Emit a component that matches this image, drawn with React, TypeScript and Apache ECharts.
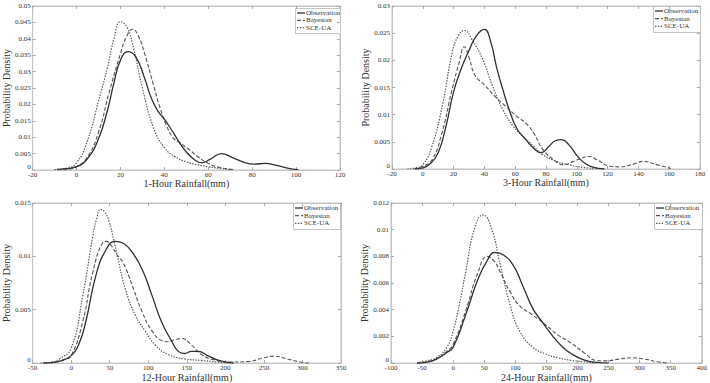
import React, { useEffect, useRef } from "react";
import * as echarts from "echarts";

// ---- 1-hour rainfall densities ----
const h1ObsX = [-9, -5, 0, 5, 10, 14, 17, 20, 23.5, 27, 31, 34, 37, 40, 43, 46, 50, 54, 57, 61, 66, 71, 76, 81, 86, 91, 96, 101];
const h1ObsY = [0.0002, 0.0004, 0.001, 0.0035, 0.0095, 0.018, 0.0265, 0.0335, 0.0361, 0.0345, 0.028, 0.022, 0.018, 0.0155, 0.0125, 0.0093, 0.0055, 0.003, 0.0022, 0.0033, 0.005, 0.0038, 0.0024, 0.0018, 0.002, 0.0014, 0.0006, 0.0001];
const h1BayX = [-6, -3, 0, 5, 10, 15, 20, 23, 25.5, 28, 31, 35, 38, 41, 44, 47, 51, 55, 60, 65, 72];
const h1BayY = [0, 0.0003, 0.001, 0.004, 0.0115, 0.024, 0.0355, 0.041, 0.0429, 0.041, 0.0355, 0.026, 0.019, 0.0135, 0.0098, 0.0083, 0.0064, 0.0042, 0.002, 0.0008, 0.0001];
const h1SceX = [-10, -5, 0, 5, 10, 14, 17, 20, 23, 26, 30, 35, 40, 45, 50, 55, 60, 65, 71];
const h1SceY = [0.0001, 0.0005, 0.0022, 0.009, 0.021, 0.031, 0.04, 0.0452, 0.0435, 0.037, 0.025, 0.013, 0.0068, 0.004, 0.0025, 0.0016, 0.001, 0.0005, 0.0001];

// ---- 3-hour rainfall densities ----
const h3ObsX = [-5, 0, 5, 10, 15, 20, 25, 30, 35, 40, 44, 48, 52, 56, 61, 67, 72, 77, 82, 86, 90, 95, 100, 105, 110, 118];
const h3ObsY = [0, 0.0002, 0.001, 0.003, 0.0078, 0.0142, 0.0185, 0.0218, 0.0246, 0.0257, 0.0235, 0.0186, 0.0146, 0.011, 0.0075, 0.0054, 0.0038, 0.003, 0.0042, 0.0052, 0.0054, 0.0044, 0.0025, 0.0011, 0.0004, 0];
const h3BayX = [-6, 0, 6, 12, 19, 23.5, 27, 30, 34, 40, 47, 54, 61, 67, 72, 78, 85, 91, 98, 103, 108, 113, 122, 128, 137, 143, 152, 161];
const h3BayY = [0, 0.0005, 0.0017, 0.0062, 0.0146, 0.0195, 0.0225, 0.0205, 0.0172, 0.0155, 0.0133, 0.0115, 0.0097, 0.0084, 0.0066, 0.0036, 0.0017, 0.0008, 0.0014, 0.002, 0.0023, 0.0017, 0.0005, 0.0004, 0.0009, 0.0014, 0.0008, 0.0001];
const h3SceX = [-10, -5, 0, 6, 13, 19, 23, 27, 32, 39, 45, 52, 59, 65, 72, 78, 87, 96, 104, 113];
const h3SceY = [0, 0.0002, 0.0008, 0.0042, 0.0121, 0.0213, 0.0245, 0.0255, 0.0238, 0.0201, 0.0155, 0.0109, 0.0078, 0.006, 0.0042, 0.0026, 0.0014, 0.0007, 0.0003, 0.0001];

// ---- 12-hour rainfall densities ----
const h12ObsX = [-36, -20, -10, 0, 10, 19, 32, 45, 57, 68, 79, 92, 105, 117, 130, 139, 147, 156, 165, 177, 194, 211];
const h12ObsY = [0, 0.0001, 0.0003, 0.0007, 0.0018, 0.0039, 0.0082, 0.0106, 0.0114, 0.0112, 0.0104, 0.0088, 0.0063, 0.0039, 0.0021, 0.0011, 0.0009, 0.0011, 0.0011, 0.0007, 0.0002, 0];
const h12BayX = [-36, -20, -10, 0, 15, 28, 41, 45, 52, 58, 68, 79, 92, 105, 118, 126, 135, 143, 156, 169, 186, 207, 229, 250, 263, 280, 297, 310];
const h12BayY = [0, 0.0001, 0.0003, 0.0007, 0.0039, 0.0085, 0.0113, 0.0114, 0.011, 0.0103, 0.0093, 0.0073, 0.0048, 0.003, 0.0021, 0.002, 0.0022, 0.0023, 0.0017, 0.0008, 0.0003, 0.0001, 0.00015, 0.0005, 0.00065, 0.0004, 0.0001, 0];
const h12SceX = [-40, -25, -15, 0, 15, 28, 33, 38, 43, 49, 55, 60, 70, 83, 96, 109, 126, 147, 169, 190, 210];
const h12SceY = [0, 0.0001, 0.0004, 0.0014, 0.0063, 0.0119, 0.0135, 0.0144, 0.0142, 0.0133, 0.0116, 0.01, 0.007, 0.0045, 0.003, 0.0017, 0.0008, 0.0004, 0.00025, 0.0001, 0];

// ---- 24-hour rainfall densities ----
const h24ObsX = [-58, -40, -27, -10, 0, 20, 40, 55, 67, 81, 97, 112, 128, 143, 159, 174, 190, 210, 231, 250];
const h24ObsY = [0, 0.0001, 0.0003, 0.0008, 0.0012, 0.0036, 0.0063, 0.0077, 0.0083, 0.0081, 0.0073, 0.0058, 0.0041, 0.0031, 0.0021, 0.0013, 0.0007, 0.00025, 0.00005, 0];
const h24BayX = [-58, -40, -27, -10, 0, 20, 40, 55, 65, 76, 92, 107, 128, 148, 169, 190, 210, 231, 246, 267, 288, 308, 329, 347];
const h24BayY = [0, 0.0001, 0.0003, 0.0009, 0.0014, 0.0039, 0.0068, 0.008, 0.0077, 0.0068, 0.0053, 0.0043, 0.0036, 0.0029, 0.0021, 0.0015, 0.0008, 0.0002, 0.00017, 0.0003, 0.0004, 0.0003, 0.0001, 0];
const h24SceX = [-58, -40, -27, -10, 0, 10, 20, 35, 48, 61, 76, 92, 107, 128, 148, 169, 190, 210, 230];
const h24SceY = [0, 0.0002, 0.0004, 0.0012, 0.0024, 0.0044, 0.0068, 0.0102, 0.0111, 0.0102, 0.0073, 0.0043, 0.0024, 0.0012, 0.0007, 0.0004, 0.0002, 0.0001, 0];

const seriesNames = ["Observation", "Bayesian", "SCE-UA"];
const xTitles = ["1-Hour Rainfall(mm)", "3-Hour Rainfall(mm)", "12-Hour Rainfall(mm)", "24-Hour Rainfall(mm)"];
const yTitle = "Probability Density";

const xMins = [-20, -20, -50, -100];
const xMaxs = [120, 180, 350, 400];
const xSteps = [20, 20, 50, 50];
const yMaxs = [0.05, 0.03, 0.015, 0.012];
const ySteps = [0.005, 0.005, 0.005, 0.002];

const panelData = [
  [[h1ObsX, h1ObsY], [h1BayX, h1BayY], [h1SceX, h1SceY]],
  [[h3ObsX, h3ObsY], [h3BayX, h3BayY], [h3SceX, h3SceY]],
  [[h12ObsX, h12ObsY], [h12BayX, h12BayY], [h12SceX, h12SceY]],
  [[h24ObsX, h24ObsY], [h24BayX, h24BayY], [h24SceX, h24SceY]],
];

const FONT = "'Liberation Serif', 'Times New Roman', serif";
const FRAME = "#c4c4c4";
const INK = "#333";

const gridBoxes = [
  { left: 31, top: 6, width: 309, height: 164 },
  { left: 392, top: 6, width: 308, height: 163 },
  { left: 29, top: 203, width: 312, height: 163 },
  { left: 391, top: 203, width: 311, height: 163 },
];
const yNameGaps = [19, 19, 17, 18];
// legend frames: x, y, width, height
const legendBoxes = [
  [295, 8, 45, 25],
  [653, 6, 47, 26],
  [293, 203, 47, 26],
  [654, 203, 48, 26],
];

const lineStyles = [
  { color: "#303030", width: 1.3, type: "solid" },
  { color: "#555555", width: 1.1, type: [4, 2] },
  { color: "#555555", width: 1.2, type: [1.4, 1.4] },
];

function zip(xs: number[], ys: number[]) {
  return xs.map((x, i) => [x, ys[i]]);
}

function legendGraphic(box: number[]) {
  const [bx, by, bw, bh] = box;
  const children: any[] = [
    {
      type: "rect",
      shape: { x: bx + 0.5, y: by + 0.5, width: bw, height: bh },
      style: { fill: "#fff", stroke: FRAME, lineWidth: 1 },
    },
  ];
  const rowGap = bh / 3.4;
  seriesNames.forEach((name, i) => {
    const cy = by + 5 + i * rowGap;
    const ls = lineStyles[i];
    children.push({
      type: "line",
      shape: { x1: bx + 2, y1: cy, x2: bx + 10, y2: cy },
      style: { stroke: ls.color, lineWidth: ls.width, lineDash: ls.type === "solid" ? null : ls.type },
    });
    children.push({
      type: "text",
      x: bx + 11,
      y: cy,
      style: { text: name, font: `7px ${FONT}`, fill: INK, verticalAlign: "middle", align: "left" },
    });
  });
  return { type: "group", children, z: 10 };
}

export default function App() {
  const ref = useRef<HTMLDivElement>(null);

  useEffect(() => {
    document.body.style.margin = "0";
    if (!ref.current) return;
    const chart = echarts.init(ref.current, null, { renderer: "svg" });

    const xAxis: any[] = [];
    const yAxis: any[] = [];
    const series: any[] = [];

    gridBoxes.forEach((_, p) => {
      const tickStyle = { show: true, inside: true, length: 3, lineStyle: { color: "#aaa" } };
      const line = { show: true, onZero: false, lineStyle: { color: FRAME } };
      xAxis.push({
        type: "value",
        gridIndex: p,
        min: xMins[p],
        max: xMaxs[p],
        interval: xSteps[p],
        name: xTitles[p],
        nameLocation: "middle",
        nameGap: 8,
        nameTextStyle: { fontFamily: FONT, fontSize: 10, color: INK },
        axisLine: line,
        axisTick: tickStyle,
        axisLabel: { fontFamily: FONT, fontSize: 7, color: INK, margin: 1 },
        splitLine: { show: false },
      });
      xAxis.push({
        type: "value",
        gridIndex: p,
        position: "top",
        min: xMins[p],
        max: xMaxs[p],
        interval: xSteps[p],
        axisLine: line,
        axisTick: tickStyle,
        axisLabel: { show: false },
        splitLine: { show: false },
      });
      yAxis.push({
        type: "value",
        gridIndex: p,
        min: 0,
        max: yMaxs[p],
        interval: ySteps[p],
        name: yTitle,
        nameLocation: "middle",
        nameGap: yNameGaps[p],
        nameTextStyle: { fontFamily: FONT, fontSize: 10, color: INK },
        axisLine: line,
        axisTick: tickStyle,
        axisLabel: {
          fontFamily: FONT,
          fontSize: 7,
          color: INK,
          margin: 2,
          // the zero label sits just above the corner, clear of the x labels
          formatter: (v: number) => (v === 0 ? "{z|0}" : String(v)),
          rich: { z: { fontFamily: FONT, fontSize: 7, color: INK, padding: [0, 0, 6, 0] } },
        },
        splitLine: { show: false },
      });
      yAxis.push({
        type: "value",
        gridIndex: p,
        position: "right",
        min: 0,
        max: yMaxs[p],
        interval: ySteps[p],
        axisLine: line,
        axisTick: tickStyle,
        axisLabel: { show: false },
        splitLine: { show: false },
      });

      panelData[p].forEach(([xs, ys], s) => {
        series.push({
          type: "line",
          name: seriesNames[s],
          xAxisIndex: p * 2,
          yAxisIndex: p * 2,
          data: zip(xs, ys),
          smooth: 0.5,
          symbol: "none",
          showSymbol: false,
          lineStyle: lineStyles[s],
          itemStyle: { color: lineStyles[s].color },
          z: 3 - s,
        });
      });
    });

    chart.setOption({
      animation: false,
      backgroundColor: "#fff",
      grid: gridBoxes.map((g) => ({ ...g, show: true, borderColor: FRAME, borderWidth: 1, containLabel: false })),
      xAxis,
      yAxis,
      series,
      graphic: legendBoxes.map(legendGraphic),
    });

    return () => chart.dispose();
  }, []);

  return <div ref={ref} style={{ width: 710, height: 383 }} />;
}
